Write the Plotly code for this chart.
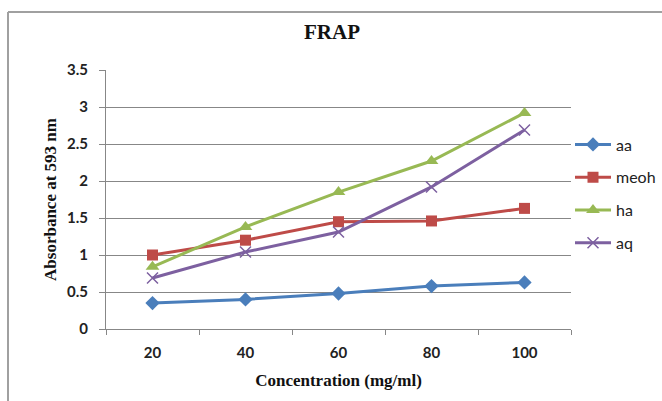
import plotly.graph_objects as go

categories = ["20", "40", "60", "80", "100"]
aa = [0.35, 0.40, 0.48, 0.58, 0.63]
meoh = [1.00, 1.20, 1.45, 1.46, 1.63]
ha = [0.84, 1.38, 1.85, 2.27, 2.92]
aq = [0.69, 1.04, 1.31, 1.92, 2.69]
y_ticks = [0, 0.5, 1, 1.5, 2, 2.5, 3, 3.5]
y_labels = ["0", "0.5", "1", "1.5", "2", "2.5", "3", "3.5"]

series = [
    ("aa", aa, "#4A7EBB", "diamond", 11),
    ("meoh", meoh, "#BE4B48", "square", 11),
    ("ha", ha, "#98B954", "triangle-up", 12),
    ("aq", aq, "#7D60A0", "x-thin", 11),
]

fig = go.Figure()
for i, (name, vals, col, sym, sz) in enumerate(series):
    fig.add_trace(go.Scatter(
        x=categories, y=vals, name=name, mode="lines+markers",
        line=dict(color=col, width=3),
        marker=dict(symbol=sym, size=sz, color=col,
                    line=dict(color=col, width=1.5 if sym == "x-thin" else 0)),
        legendgroup=name,
    ))

L, R, T, B = 106, 91, 70, 72
W, H = 662, 401
pw, ph = W - L - R, H - T - B

grid = "#878787"
fig.update_layout(
    width=W, height=H,
    margin=dict(l=L, r=R, t=T, b=B, autoexpand=False),
    paper_bgcolor="white", plot_bgcolor="white",
    title=dict(text="<b>FRAP</b>", x=332 / W, xref="container", xanchor="center",
               y=1 - 32 / H, yref="container", yanchor="middle",
               font=dict(family="Liberation Serif", size=21, color="#111111")),
    legend=dict(x=(570 - L) / pw, xanchor="left", y=(329 - 194) / ph, yanchor="middle",
                font=dict(family="Lato", size=16, color="#222222"),
                itemwidth=36,
                tracegroupgap=9, bgcolor="rgba(0,0,0,0)"),
    xaxis=dict(
        type="category", tickson="boundaries", showgrid=False, range=[-0.5, 4.5],
        showline=True, linecolor=grid, linewidth=1,
        ticks="outside", ticklen=5, tickcolor=grid,
        ticklabelstandoff=10,
        tickfont=dict(family="Lato", size=15, color="#222222", weight="bold"),
        title=dict(text="<b>Concentration (mg/ml)</b>", standoff=14,
                   font=dict(family="Liberation Serif", size=17, color="#111111")),
    ),
    yaxis=dict(
        range=[0, 3.5], tickvals=y_ticks, ticktext=y_labels,
        showgrid=True, gridcolor=grid, gridwidth=1,
        showline=True, linecolor=grid, linewidth=1, zeroline=False,
        ticks="outside", ticklen=6, tickcolor=grid,
        ticklabelstandoff=8,
        tickfont=dict(family="Lato", size=15, color="#222222", weight="bold"),
        title=dict(text="<b>Absorbance at 593 nm</b>", standoff=6,
                   font=dict(family="Liberation Serif", size=17, color="#111111")),
    ),
    showlegend=True,
)

# outer chart border (top and left edges visible in reference)
bx0 = (8 - L) / pw
by1 = 1 + (T - 12) / ph
fig.add_shape(type="line", xref="paper", yref="paper", x0=bx0, x1=1.5, y0=by1, y1=by1,
              line=dict(color="#A0A0A0", width=2))
fig.add_shape(type="line", xref="paper", yref="paper", x0=bx0, x1=bx0, y0=-0.5, y1=by1,
              line=dict(color="#A0A0A0", width=2))

fig.write_html("out.html")
